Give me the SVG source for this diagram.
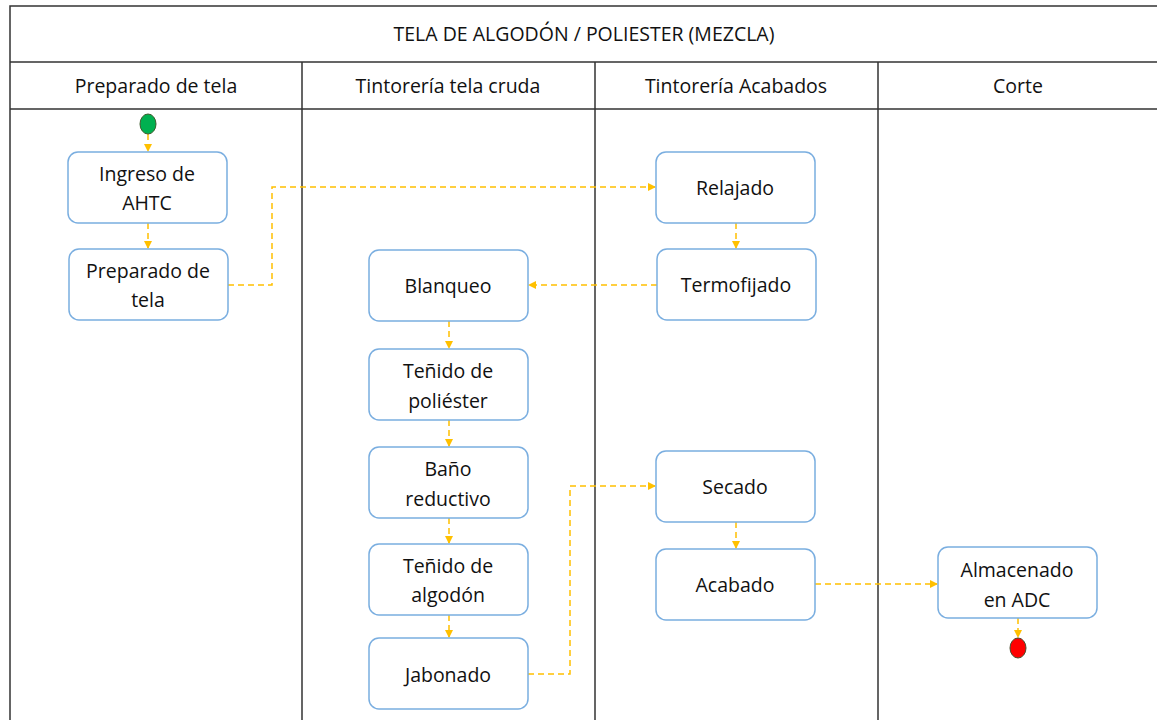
<svg xmlns="http://www.w3.org/2000/svg" width="1157" height="720" viewBox="0 0 1157 720">
<defs>
<marker id="arr" markerWidth="8" markerHeight="8" refX="7" refY="4" orient="auto" markerUnits="userSpaceOnUse">
<path d="M0,0 L8,4 L0,8 Z" fill="#FFC000"/>
</marker>
<style>
.lane{stroke:#333;stroke-width:1.5;fill:none}
.node rect{fill:#fff;stroke:#7AAEE0;stroke-width:1.5}
text{font-family:"Open Sans","Noto Sans","Liberation Sans",sans-serif;font-size:19.5px;fill:#111;text-anchor:middle}
.conn{stroke:#FFC000;stroke-width:1.5;stroke-dasharray:6,4;fill:none;marker-end:url(#arr)}
</style>
</defs>
<rect width="1157" height="720" fill="#fff"/>
<g id="pool">
<path class="lane" d="M1157,6 H10 V720 M10,62 H1157 M10,109 H1157 M302,62 V720 M595,62 V720 M878,62 V720"/>
<text x="584" y="41">TELA DE ALGODÓN / POLIESTER (MEZCLA)</text>
<text x="156" y="93">Preparado de tela</text>
<text x="448" y="93">Tintorería tela cruda</text>
<text x="736" y="93">Tintorería Acabados</text>
<text x="1018" y="93">Corte</text>
</g>
<g id="connectors">
<path class="conn" d="M148,134 V151"/>
<path class="conn" d="M148,223 V248"/>
<path class="conn" d="M228,285 H272 V187 H655"/>
<path class="conn" d="M736,223 V248"/>
<path class="conn" d="M657,285 H529"/>
<path class="conn" d="M449,321 V348"/>
<path class="conn" d="M449,420 V446"/>
<path class="conn" d="M449,518 V543"/>
<path class="conn" d="M449,615 V637"/>
<path class="conn" d="M528,674 H570 V486 H655"/>
<path class="conn" d="M736,522 V548"/>
<path class="conn" d="M815,584 H937"/>
<path class="conn" d="M1018,618 V637"/>
</g>
<g id="start"><ellipse cx="148" cy="124" rx="8" ry="10" fill="#00B050" stroke="#3a5a2a" stroke-width="1"/></g>
<g id="ingreso" class="node"><rect x="68" y="152" width="159" height="71" rx="10"/><text x="147" y="181">Ingreso de</text><text x="147" y="210">AHTC</text></g>
<g id="preparado" class="node"><rect x="69" y="249" width="159" height="71" rx="10"/><text x="148" y="278">Preparado de</text><text x="148" y="307">tela</text></g>
<g id="relajado" class="node"><rect x="656" y="152" width="159" height="71" rx="10"/><text x="735" y="195">Relajado</text></g>
<g id="termofijado" class="node"><rect x="657" y="249" width="159" height="71" rx="10"/><text x="736" y="292">Termofijado</text></g>
<g id="blanqueo" class="node"><rect x="369" y="250" width="159" height="71" rx="10"/><text x="448" y="293">Blanqueo</text></g>
<g id="tenido-poliester" class="node"><rect x="369" y="349" width="159" height="71" rx="10"/><text x="448" y="378">Teñido de</text><text x="448" y="408">poliéster</text></g>
<g id="bano-reductivo" class="node"><rect x="369" y="447" width="159" height="71" rx="10"/><text x="448" y="476">Baño</text><text x="448" y="506">reductivo</text></g>
<g id="tenido-algodon" class="node"><rect x="369" y="544" width="159" height="71" rx="10"/><text x="448" y="573">Teñido de</text><text x="448" y="602">algodón</text></g>
<g id="jabonado" class="node"><rect x="369" y="638" width="159" height="71" rx="10"/><text x="448" y="682">Jabonado</text></g>
<g id="secado" class="node"><rect x="656" y="451" width="159" height="71" rx="10"/><text x="735" y="494">Secado</text></g>
<g id="acabado" class="node"><rect x="656" y="549" width="159" height="71" rx="10"/><text x="735" y="592">Acabado</text></g>
<g id="almacenado" class="node"><rect x="938" y="547" width="159" height="71" rx="10"/><text x="1017" y="577">Almacenado</text><text x="1017" y="607">en ADC</text></g>
<g id="end"><ellipse cx="1018" cy="648" rx="8" ry="10" fill="#FF0000" stroke="#4a4a2a" stroke-width="1"/></g>
</svg>
